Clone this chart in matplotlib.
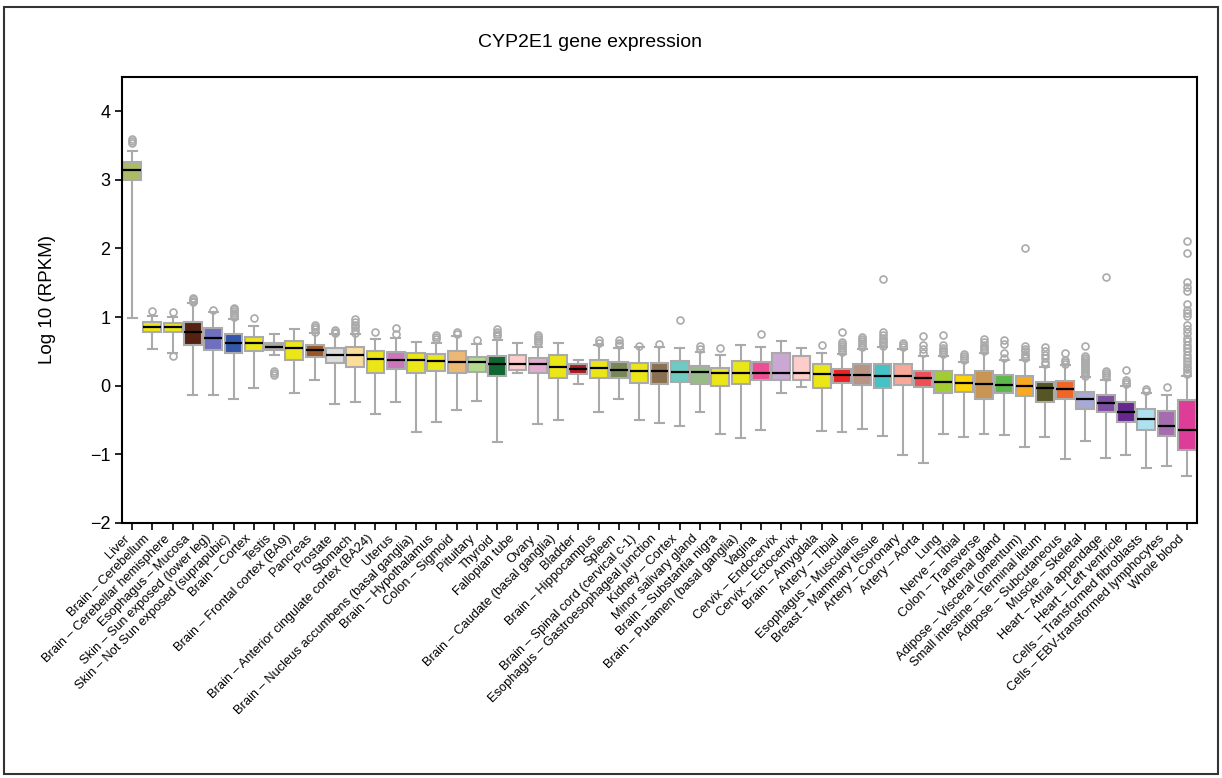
import matplotlib
matplotlib.use("Agg")
import matplotlib.pyplot as plt
from matplotlib.patches import Rectangle

plt.rcParams['font.family'] = ['Liberation Sans', 'DejaVu Sans']

# tissues, in plotted order
tissues = [
    "Liver", "Brain – Cerebellum", "Brain – Cerebellar hemisphere", "Esophagus – Mucosa",
    "Skin – Sun exposed (lower leg)", "Skin – Not Sun exposed (suprapubic)", "Brain – Cortex",
    "Testis", "Brain – Frontal cortex (BA9)", "Pancreas", "Prostate", "Stomach",
    "Brain – Anterior cingulate cortex (BA24)", "Uterus", "Brain – Nucleus accumbens (basal ganglia)",
    "Brain – Hypothalamus", "Colon – Sigmoid", "Pituitary", "Thyroid", "Fallopian tube", "Ovary",
    "Brain – Caudate (basal ganglia)", "Bladder", "Brain – Hippocampus", "Spleen",
    "Brain – Spinal cord (cervical c-1)", "Esophagus – Gastroesophageal junction", "Kidney – Cortex",
    "Minor salivary gland", "Brain – Substantia nigra", "Brain – Putamen (basal ganglia)", "Vagina",
    "Cervix – Endocervix", "Cervix – Ectocervix", "Brain – Amygdala", "Artery – Tibial",
    "Esophagus – Muscularis", "Breast – Mammary tissue", "Artery – Coronary", "Artery – Aorta",
    "Lung", "Nerve – Tibial", "Colon – Transverse", "Adrenal gland", "Adipose – Visceral (omentum)",
    "Small intestine – Terminal ileum", "Adipose – Subcutaneous", "Muscle – Skeletal",
    "Heart – Atrial appendage", "Heart – Left ventricle", "Cells – Transformed fibroblasts",
    "Cells – EBV-transformed lymphocytes", "Whole blood",
]

colors = [
    "#AABB66", "#EBE617", "#EBE617", "#552211", "#6F6FBF", "#3355AA", "#EBE617", "#A8A8A8",
    "#EBE617", "#9A5528", "#DDDDDD", "#FDDC9A", "#EBE617", "#CC77BB", "#EBE617", "#EBE617",
    "#EDB874", "#B2D98E", "#126630", "#FFCCCC", "#E5AAD2", "#EBE617", "#AA1A22", "#EBE617",
    "#778855", "#EBE617", "#8A7050", "#6ECAC2", "#98BC88", "#EBE617", "#EBE617", "#EE4E96",
    "#CBA8D4", "#FFCCCC", "#EBE617", "#EE2222", "#B89484", "#44C2C6", "#F8A898", "#EE5055",
    "#A3CC33", "#FCD408", "#C99552", "#5CB84A", "#F9A822", "#555526", "#EF6626", "#A9A9D8",
    "#7D4FA1", "#66288F", "#AEE1F0", "#A56DAF", "#DD3D99",
]

# log10(RPKM) box statistics
q1 = [3.00, 0.79, 0.78, 0.59, 0.52, 0.48, 0.51, 0.52, 0.38, 0.42, 0.33, 0.27, 0.19, 0.25, 0.19,
      0.22, 0.19, 0.20, 0.14, 0.23, 0.18, 0.11, 0.17, 0.11, 0.11, 0.04, 0.03, 0.06, 0.03, 0.00,
      0.02, 0.08, 0.08, 0.08, -0.03, 0.04, 0.01, -0.04, 0.01, -0.02, -0.11, -0.09, -0.19, -0.10,
      -0.15, -0.23, -0.19, -0.34, -0.38, -0.53, -0.64, -0.73, -0.94]
med = [3.14, 0.86, 0.85, 0.79, 0.70, 0.63, 0.63, 0.57, 0.55, 0.52, 0.45, 0.45, 0.39, 0.38, 0.38,
       0.36, 0.34, 0.34, 0.32, 0.32, 0.31, 0.27, 0.25, 0.26, 0.23, 0.21, 0.21, 0.20, 0.20, 0.19,
       0.19, 0.19, 0.19, 0.18, 0.17, 0.15, 0.15, 0.14, 0.14, 0.11, 0.06, 0.04, 0.03, 0.01,
       -0.01, -0.04, -0.05, -0.20, -0.25, -0.39, -0.49, -0.58, -0.64]
q3 = [3.26, 0.93, 0.91, 0.93, 0.84, 0.76, 0.71, 0.63, 0.65, 0.60, 0.55, 0.56, 0.51, 0.49, 0.48,
      0.46, 0.50, 0.42, 0.43, 0.45, 0.40, 0.45, 0.32, 0.38, 0.34, 0.33, 0.33, 0.36, 0.29, 0.26,
      0.36, 0.34, 0.47, 0.43, 0.32, 0.25, 0.31, 0.31, 0.31, 0.21, 0.21, 0.15, 0.22, 0.16,
      0.14, 0.06, 0.07, -0.09, -0.13, -0.24, -0.34, -0.37, -0.21]
whislo = [0.99, 0.53, 0.48, -0.13, -0.14, -0.20, -0.03, 0.45, -0.11, 0.08, -0.26, -0.23, -0.41,
          -0.23, -0.68, -0.53, -0.36, -0.22, -0.82, 0.19, -0.56, -0.50, 0.03, -0.39, -0.20, -0.50,
          -0.55, -0.58, -0.38, -0.71, -0.76, -0.64, -0.10, -0.02, -0.66, -0.68, -0.63, -0.73,
          -1.01, -1.13, -0.70, -0.75, -0.71, -0.72, -0.89, -0.74, -1.07, -0.81, -1.06, -1.01,
          -1.20, -1.17, -1.31]
whishi = [3.42, 1.01, 1.00, 1.21, 1.07, 0.97, 0.87, 0.75, 0.83, 0.77, 0.75, 0.75, 0.68, 0.70,
          0.64, 0.63, 0.73, 0.61, 0.67, 0.63, 0.57, 0.62, 0.38, 0.59, 0.55, 0.57, 0.56, 0.55,
          0.49, 0.45, 0.59, 0.57, 0.65, 0.55, 0.47, 0.46, 0.53, 0.57, 0.54, 0.43, 0.44, 0.35,
          0.48, 0.38, 0.38, 0.28, 0.30, 0.12, 0.09, 0.00, -0.10, -0.14, 0.14]
fliers = [
    [3.54, 3.57, 3.59], [1.09], [1.08, 0.44], [1.22, 1.24, 1.26, 1.28], [1.11],
    [1.00, 1.03, 1.06, 1.09, 1.12, 1.14], [0.99], [0.15, 0.18, 0.21], [],
    [0.79, 0.82, 0.85, 0.88], [0.77, 0.79, 0.81], [0.77, 0.81, 0.85, 0.89, 0.93, 0.97],
    [0.78], [0.75, 0.84], [], [0.68, 0.71, 0.74], [0.76, 0.79], [0.66],
    [0.72, 0.75, 0.78, 0.82], [], [0.62, 0.65, 0.68, 0.71, 0.74], [], [], [0.62, 0.66],
    [0.60, 0.63, 0.66], [0.58], [0.61], [0.96], [0.54, 0.58], [0.55], [], [0.75], [], [],
    [0.60], [0.49, 0.52, 0.55, 0.58, 0.61, 0.64, 0.79], [0.56, 0.59, 0.62, 0.65, 0.68, 0.71],
    [0.58, 0.61, 0.64, 0.67, 0.70, 0.74, 0.78, 1.56], [0.56, 0.59, 0.62], [0.48, 0.54, 0.60, 0.72],
    [0.46, 0.49, 0.52, 0.55, 0.60, 0.745], [0.37, 0.40, 0.43, 0.46],
    [0.51, 0.54, 0.57, 0.60, 0.64, 0.68], [0.40, 0.48, 0.61, 0.67],
    [0.40, 0.43, 0.46, 0.50, 0.54, 0.58, 2.01], [0.31, 0.35, 0.40, 0.45, 0.51, 0.56],
    [0.31, 0.34, 0.37, 0.48],
    [0.14, 0.17, 0.20, 0.23, 0.26, 0.29, 0.32, 0.35, 0.38, 0.41, 0.44, 0.58],
    [0.13, 0.16, 0.19, 0.21, 1.59], [0.03, 0.06, 0.09, 0.23], [-0.08, -0.05], [-0.02],
    [0.17, 0.20, 0.24, 0.28, 0.32, 0.36, 0.40, 0.45, 0.50, 0.55, 0.60, 0.65, 0.70, 0.77,
     0.82, 0.88, 1.01, 1.06, 1.11, 1.19, 1.38, 1.44, 1.51, 1.93, 2.11],
]

stats = []
for i in range(len(tissues)):
    stats.append(dict(label=tissues[i], q1=q1[i], med=med[i], q3=q3[i],
                      whislo=whislo[i], whishi=whishi[i], fliers=fliers[i]))

fig = plt.figure(figsize=(12.22, 7.78), dpi=100)
ax = fig.add_axes([0.0998, 0.3278, 0.8797, 0.5733])

grey = "#AAAAAA"
bp = ax.bxp(stats, positions=range(len(tissues)), widths=0.88, patch_artist=True,
            boxprops=dict(edgecolor=grey, linewidth=1.5),
            whiskerprops=dict(color=grey, linewidth=1.5),
            capprops=dict(color=grey, linewidth=1.5),
            medianprops=dict(color="black", linewidth=1.6),
            flierprops=dict(marker="o", markerfacecolor="none", markeredgecolor=grey,
                            markersize=5, markeredgewidth=1.2))
for patch, c in zip(bp['boxes'], colors):
    patch.set_facecolor(c)

ax.set_xlim(-0.5, len(tissues) - 0.5)
ax.set_ylim(-2, 4.5)
ax.set_yticks([-2, -1, 0, 1, 2, 3, 4])
ax.set_xticks(range(len(tissues)))
ax.set_xticklabels(tissues, rotation=45, ha="right", fontsize=9.3)
ax.tick_params(axis="y", labelsize=13, length=5, width=1.2)
ax.tick_params(axis="x", length=5, width=1.2, pad=2)
for s in ax.spines.values():
    s.set_linewidth(1.5)
ax.set_ylabel("Log 10 (RPKM)", fontsize=13.5, labelpad=24)
fig.text(0.483, 0.945, "CYP2E1 gene expression", ha="center", va="center", fontsize=14)

# frame round the whole picture
fig.patches.append(Rectangle((0.0035, 0.005), 0.993, 0.986, transform=fig.transFigure,
                             fill=False, edgecolor="#333333", linewidth=1.5))

fig.savefig("out.png", dpi=100)
